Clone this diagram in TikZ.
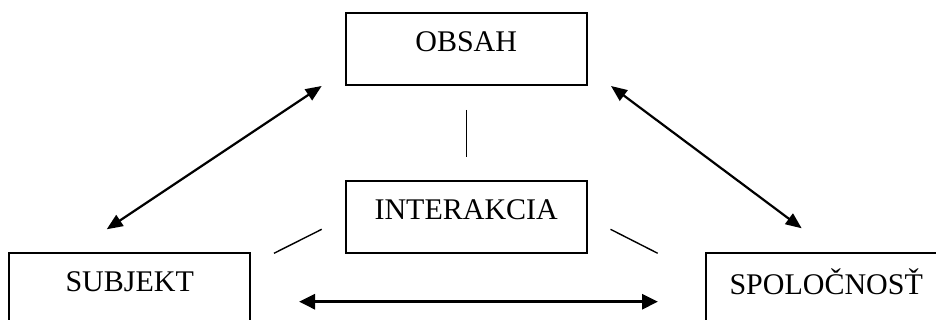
\documentclass[tikz,border=0pt]{standalone}
\usepackage{fontspec}
\setmainfont{Liberation Serif}
\usetikzlibrary{arrows.meta}
\begin{document}
\begin{tikzpicture}[x=1pt,y=1pt,
  box/.style={draw, line width=1.9pt, minimum width=241pt, inner sep=0pt},
  lbl/.style={font=\fontsize{30}{36}\selectfont, inner sep=0pt, anchor=center},
  dbl/.style={line width=2.2pt, {Triangle[length=16pt,width=13pt]}-{Triangle[length=16pt,width=13pt]}},
  dblb/.style={line width=3pt, {Triangle[length=16pt,width=15pt]}-{Triangle[length=16pt,width=15pt]}},
  thin/.style={line width=1.4pt}]
\useasboundingbox (0,0) rectangle (936,320);
\clip (0,0) rectangle (936,320);
\node[box, minimum height=72pt] (obsah) at (466.2,271) {};
\node[lbl] (tobsah) at ([yshift=-30pt]obsah.north) {OBSAH};
\node[box, minimum height=72pt] (inter) at (466.2,103) {};
\node[lbl] (tinter) at ([yshift=-30pt]inter.north) {INTERAKCIA};
\node[box, minimum height=90pt] (subj) at (129.7,22.3) {};
\node[lbl] (tsubj) at ([yshift=-30pt]subj.north) {SUBJEKT};
\node[box, minimum height=90pt] (spol) at (826.2,22.3) {};
\node[lbl] (tspol) at ([yshift=-30pt]spol.north) {SPOLOČNOSŤ};
% connector end points
\coordinate (l1) at (321.7,234);
\coordinate (l2) at (106.7,90.7);
\coordinate (r1) at (611,234);
\coordinate (r2) at (801.7,91.7);
\coordinate (b1) at (299,18.3);
\coordinate (b2) at (658,18.3);
\coordinate (v1) at (466.5,210);
\coordinate (v2) at (466.5,163);
\coordinate (s1) at (321.7,90.7);
\coordinate (s2) at (274,66.7);
\coordinate (t1) at (610.5,90.7);
\coordinate (t2) at (657.7,66.7);
\draw[dbl] (l1) -- (l2);
\draw[dbl] (r1) -- (r2);
\draw[dblb] (b1) -- (b2);
\draw[thin] (v1) -- (v2);
\draw[thin] (s1) -- (s2);
\draw[thin] (t1) -- (t2);
\end{tikzpicture}
\end{document}
